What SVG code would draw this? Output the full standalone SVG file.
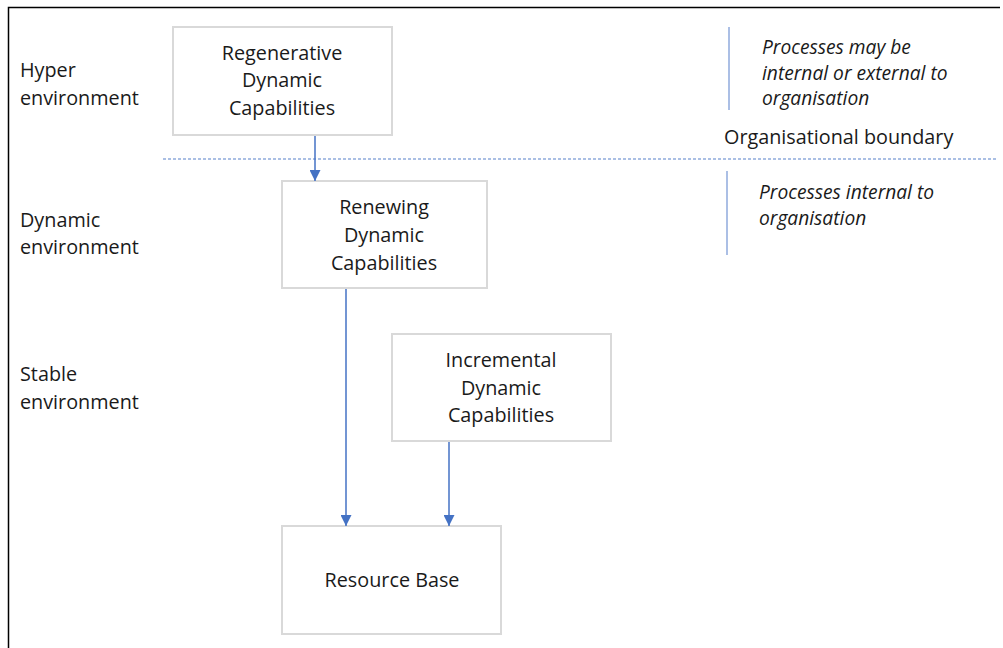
<svg xmlns="http://www.w3.org/2000/svg" width="1003" height="648" viewBox="0 0 1003 648">
<style>
.box{fill:#fff;stroke:#d9d9d9;stroke-width:2}
.t{font-family:"Open Sans","Liberation Sans",sans-serif;font-size:19.8px;fill:#1a1a1a}
.c{text-anchor:middle}
.i{font-style:italic;font-size:19.2px}
.conn{stroke:#4472c4;stroke-width:1.5;fill:none}
</style>
<defs>
<marker id="ah" viewBox="0 0 10 10" refX="10" refY="5" markerWidth="11" markerHeight="11" markerUnits="userSpaceOnUse" orient="auto"><path d="M0,0 L10,5 L0,10 z" fill="#4472c4"/></marker>
</defs>
<rect width="1003" height="648" fill="#fff"/>
<path d="M8.5,648 V7.5 H1000" stroke="#000" stroke-width="1.5" fill="none"/>
<line x1="163" y1="159" x2="997" y2="159" stroke="#8faadc" stroke-width="1.5" stroke-dasharray="3,2"/>
<line x1="729" y1="27" x2="729" y2="110" stroke="#8faadc" stroke-width="1.5"/>
<line x1="727" y1="171" x2="727" y2="255" stroke="#8faadc" stroke-width="1.5"/>
<g id="labels">
<text class="t" x="20" y="77">Hyper</text>
<text class="t" x="20" y="105">environment</text>
<text class="t" x="20" y="227">Dynamic</text>
<text class="t" x="20" y="254">environment</text>
<text class="t" x="20" y="381">Stable</text>
<text class="t" x="20" y="409">environment</text>
<text class="t i" x="762" y="54">Processes may be</text>
<text class="t i" x="762" y="80">internal or external to</text>
<text class="t i" x="762" y="105">organisation</text>
<text class="t" x="724" y="144">Organisational boundary</text>
<text class="t i" x="759" y="199">Processes internal to</text>
<text class="t i" x="759" y="225">organisation</text>
</g>
<g id="regenerative">
<rect class="box" x="173" y="27" width="219" height="108"/>
<text class="t c" x="282" y="60">Regenerative</text>
<text class="t c" x="282" y="87">Dynamic</text>
<text class="t c" x="282" y="115">Capabilities</text>
</g>
<g id="renewing">
<rect class="box" x="282" y="181" width="205" height="107"/>
<text class="t c" x="384" y="214">Renewing</text>
<text class="t c" x="384" y="242">Dynamic</text>
<text class="t c" x="384" y="270">Capabilities</text>
</g>
<g id="incremental">
<rect class="box" x="392" y="334" width="219" height="107"/>
<text class="t c" x="501" y="367">Incremental</text>
<text class="t c" x="501" y="395">Dynamic</text>
<text class="t c" x="501" y="422">Capabilities</text>
</g>
<g id="resource">
<rect class="box" x="282" y="526" width="219" height="108"/>
<text class="t c" x="392" y="587">Resource Base</text>
</g>
<g id="connectors">
<line class="conn" x1="315" y1="136" x2="315" y2="181" marker-end="url(#ah)"/>
<line class="conn" x1="346" y1="289" x2="346" y2="526" marker-end="url(#ah)"/>
<line class="conn" x1="449" y1="442" x2="449" y2="526" marker-end="url(#ah)"/>
</g>
</svg>
